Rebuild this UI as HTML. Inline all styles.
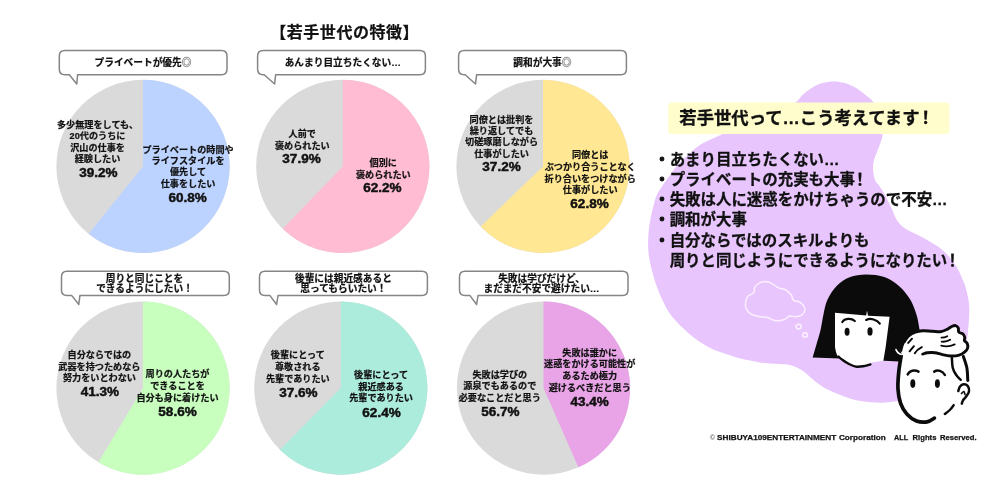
<!DOCTYPE html>
<html lang="ja"><head><meta charset="utf-8"><title>若手世代の特徴</title>
<style>
html,body{margin:0;padding:0;background:#fff;}
body{width:1008px;height:481px;overflow:hidden;position:relative;font-family:"Liberation Sans", "Noto Sans CJK JP", sans-serif;}
svg{display:block;position:absolute;left:0;top:0;}
text{font-family:"Liberation Sans", "Noto Sans CJK JP", sans-serif;font-weight:700;fill:#111;}
.lb{text-anchor:middle;stroke:#111;stroke-width:0.22px;}
.pc{text-anchor:middle;font-family:"Liberation Sans",sans-serif;font-size:12.3px;font-weight:700;stroke:#111;stroke-width:0.45px;}
.bl{font-size:15.45px;stroke:#111;stroke-width:0.3px;}
</style></head><body>
<svg width="1008" height="481" viewBox="0 0 1008 481">

<text x="344.7" y="37.8" class="lb" font-size="16" style="letter-spacing:0.55px">【若手世代の特徴】</text>
<circle cx="143" cy="166.4" r="86.6" fill="#dadada"/><path d="M143,166.4 L143,79.80000000000001 A86.6,86.6 0 1 1 88.64,233.81 Z" fill="#bcd3ff"/>
<text x="97.5" y="128.06" class="lb" font-size="9.15">多少無理をしても、</text><text x="97.5" y="139.46" class="lb" font-size="9.15">20代のうちに</text><text x="97.5" y="150.86" class="lb" font-size="9.15">沢山の仕事を</text><text x="97.5" y="162.36" class="lb" font-size="9.15">経験したい</text>
<text transform="translate(98.3,176.75) scale(1.1,1)" class="pc">39.2%</text>
<text x="188" y="153.16" class="lb" font-size="9.15">プライベートの時間や</text><text x="188" y="163.96" class="lb" font-size="9.15">ライフスタイルを</text><text x="188" y="174.86" class="lb" font-size="9.15">優先して</text><text x="188" y="186.76" class="lb" font-size="9.15">仕事をしたい</text>
<text transform="translate(187.7,202.45) scale(1.1,1)" class="pc">60.8%</text>
<circle cx="342.8" cy="166.4" r="86.6" fill="#dadada"/><path d="M342.8,166.4 L342.8,79.80000000000001 A86.6,86.6 0 1 1 282.73,228.78 Z" fill="#ffbcd3"/>
<text x="302.3" y="136.66" class="lb" font-size="9.15">人前で</text><text x="302.3" y="148.56" class="lb" font-size="9.15">褒められたい</text>
<text transform="translate(301.5,162.65) scale(1.1,1)" class="pc">37.9%</text>
<text x="383.3" y="166.16" class="lb" font-size="9.15">個別に</text><text x="383.3" y="177.86" class="lb" font-size="9.15">褒められたい</text>
<text transform="translate(382.4,192.35) scale(1.1,1)" class="pc">62.2%</text>
<circle cx="543" cy="166.4" r="86.6" fill="#dadada"/><path d="M543,166.4 L543,79.80000000000001 A86.6,86.6 0 1 1 480.62,226.47 Z" fill="#ffe793"/>
<text x="501.5" y="122.76" class="lb" font-size="9.15">同僚とは批判を</text><text x="501.5" y="134.16" class="lb" font-size="9.15">繰り返してでも</text><text x="501.5" y="145.16" class="lb" font-size="9.15">切磋琢磨しながら</text><text x="501.5" y="156.56" class="lb" font-size="9.15">仕事がしたい</text>
<text transform="translate(501.5,171.45) scale(1.1,1)" class="pc">37.2%</text>
<text x="590.2" y="157.76" class="lb" font-size="9.15">同僚とは</text><text x="590.2" y="170.36" class="lb" font-size="9.15">ぶつかり合うことなく</text><text x="590.2" y="181.76" class="lb" font-size="9.15">折り合いをつけながら</text><text x="590.2" y="193.16" class="lb" font-size="9.15">仕事がしたい</text>
<text transform="translate(589.5,207.95) scale(1.1,1)" class="pc">62.8%</text>
<circle cx="143" cy="388.1" r="86.6" fill="#dadada"/><path d="M143,388.1 L143,301.5 A86.6,86.6 0 1 1 98.45,462.36 Z" fill="#c8ffbf"/>
<text x="99.4" y="358.26" class="lb" font-size="9.15">自分ならではの</text><text x="99.4" y="369.76" class="lb" font-size="9.15">武器を持つためなら</text><text x="99.4" y="381.16" class="lb" font-size="9.15">努力をいとわない</text>
<text transform="translate(99.8,396.45) scale(1.1,1)" class="pc">41.3%</text>
<text x="177.5" y="377.06" class="lb" font-size="9.15">周りの人たちが</text><text x="177.5" y="389.16" class="lb" font-size="9.15">できることを</text><text x="177.5" y="401.06" class="lb" font-size="9.15">自分も身に着けたい</text>
<text transform="translate(177.5,416.45) scale(1.1,1)" class="pc">58.6%</text>
<circle cx="340.8" cy="388.1" r="86.6" fill="#dadada"/><path d="M340.8,388.1 L340.8,301.5 A86.6,86.6 0 1 1 279.95,449.72 Z" fill="#acecdc"/>
<text x="297.8" y="358.26" class="lb" font-size="9.15">後輩にとって</text><text x="297.8" y="369.76" class="lb" font-size="9.15">尊敬される</text><text x="297.8" y="381.66" class="lb" font-size="9.15">先輩でありたい</text>
<text transform="translate(298.4,396.95) scale(1.1,1)" class="pc">37.6%</text>
<text x="381.1" y="377.76" class="lb" font-size="9.15">後輩にとって</text><text x="381.1" y="389.66" class="lb" font-size="9.15">親近感ある</text><text x="381.1" y="401.26" class="lb" font-size="9.15">先輩でありたい</text>
<text transform="translate(381.5,416.95) scale(1.1,1)" class="pc">62.4%</text>
<circle cx="543.5" cy="388.1" r="86.6" fill="#dadada"/><path d="M543.5,388.1 L543.5,301.5 A86.6,86.6 0 0 1 578.39,467.36 Z" fill="#e8a4e6"/>
<text x="499.8" y="377.76" class="lb" font-size="9.15">失敗は学びの</text><text x="499.8" y="389.16" class="lb" font-size="9.15">源泉でもあるので</text><text x="499.8" y="400.56" class="lb" font-size="9.15">必要なことだと思う</text>
<text transform="translate(500.3,415.95) scale(1.1,1)" class="pc">56.7%</text>
<text x="589.7" y="355.56" class="lb" font-size="9.15">失敗は誰かに</text><text x="589.7" y="367.46" class="lb" font-size="9.15">迷惑をかける可能性が</text><text x="589.7" y="378.86" class="lb" font-size="9.15">あるため極力</text><text x="589.7" y="390.96" class="lb" font-size="9.15">避けるべきだと思う</text>
<text transform="translate(589.7,406.25) scale(1.1,1)" class="pc">43.4%</text>
<path d="M64.8,50.6 H221.5 Q227,50.6 227,56.1 V69.3 Q227,74.8 221.5,74.8 H77.6 L76.8,84 L69.3,74.8 H64.8 Q59.3,74.8 59.3,69.3 V56.1 Q59.3,50.6 64.8,50.6 Z" fill="#fff" stroke="#858585" stroke-width="1.5" stroke-linejoin="round"/>
<text x="143" y="66.15" class="lb" font-size="9.7">プライベートが優先<tspan style="fill:#9b9b9b;stroke:#9b9b9b;stroke-width:0.45px">◎</tspan></text>
<path d="M263.1,50.6 H419.9 Q425.4,50.6 425.4,56.1 V69.3 Q425.4,74.8 419.9,74.8 H275.6 L274.6,84 L264.2,74.8 H263.1 Q257.6,74.8 257.6,69.3 V56.1 Q257.6,50.6 263.1,50.6 Z" fill="#fff" stroke="#858585" stroke-width="1.5" stroke-linejoin="round"/>
<text x="342.8" y="66.15" class="lb" font-size="9.7">あんまり目立ちたくない…</text>
<path d="M464.1,50.6 H620.9 Q626.4,50.6 626.4,56.1 V69.3 Q626.4,74.8 620.9,74.8 H476.6 L475.5,84 L465.2,74.8 H464.1 Q458.6,74.8 458.6,69.3 V56.1 Q458.6,50.6 464.1,50.6 Z" fill="#fff" stroke="#858585" stroke-width="1.5" stroke-linejoin="round"/>
<text x="542.4" y="66.15" class="lb" font-size="9.7">調和が大事<tspan style="fill:#9b9b9b;stroke:#9b9b9b;stroke-width:0.45px">◎</tspan></text>
<path d="M67.0,271.3 H223.8 Q229.3,271.3 229.3,276.8 V290.1 Q229.3,295.6 223.8,295.6 H79.9 L78.8,304.5 L71.8,295.6 H67.0 Q61.5,295.6 61.5,290.1 V276.8 Q61.5,271.3 67.0,271.3 Z" fill="#fff" stroke="#858585" stroke-width="1.5" stroke-linejoin="round"/>
<text x="144.5" y="281.65" class="lb" font-size="9.7">周りと同じことを</text>
<text x="144.5" y="291.95" class="lb" font-size="9.7">できるようにしたい！</text>
<path d="M265.0,271.3 H421.9 Q427.4,271.3 427.4,276.8 V290.1 Q427.4,295.6 421.9,295.6 H278 L276.6,304.5 L270,295.6 H265.0 Q259.5,295.6 259.5,290.1 V276.8 Q259.5,271.3 265.0,271.3 Z" fill="#fff" stroke="#858585" stroke-width="1.5" stroke-linejoin="round"/>
<text x="343.4" y="281.65" class="lb" font-size="9.7">後輩には親近感あると</text>
<text x="343.4" y="291.65" class="lb" font-size="9.7">思ってもらいたい！</text>
<path d="M465.0,271.3 H622.5 Q628,271.3 628,276.8 V290.1 Q628,295.6 622.5,295.6 H478 L476.6,304.5 L470,295.6 H465.0 Q459.5,295.6 459.5,290.1 V276.8 Q459.5,271.3 465.0,271.3 Z" fill="#fff" stroke="#858585" stroke-width="1.5" stroke-linejoin="round"/>
<text x="541.5" y="281.65" class="lb" font-size="9.7">失敗は学びだけど、</text><text x="541.5" y="291.65" class="lb" font-size="9.7">まだまだ不安で避けたい…</text>
<path d="M833.6,81.5 C837.4,81.5 841.1,82.0 844.9,83.1 C848.6,84.2 852.6,86.0 856.1,88.1 C859.6,90.2 863.2,93.2 866.1,95.6 C869.0,97.9 871.3,99.3 873.5,102.2 C875.7,105.1 878.0,109.2 879.5,113 C881.0,116.8 881.8,121.3 882.3,125 C882.8,128.7 882.8,132.1 882.5,135 C882.2,137.9 881.6,139.6 880.6,142.5 C879.6,145.4 877.9,149.4 876.8,152.5 C875.6,155.6 874.3,158.3 873.7,161.2 C873.1,164.1 872.9,166.9 873.1,170 C873.3,173.1 874.0,177.3 875,180 C876.0,182.7 877.7,183.5 879.4,186 C881.1,188.5 883.0,191.4 885,195 C887.0,198.6 889.2,203.3 891.2,207.5 C893.2,211.7 894.7,216.7 896.8,220 C898.9,223.3 900.9,225.2 903.7,227.4 C906.5,229.6 910.2,231.2 913.7,233.1 C917.2,235.0 920.9,236.4 924.9,238.7 C928.9,240.9 934.0,243.7 938,246.6 C942.0,249.5 945.7,252.9 948.7,256.2 C951.7,259.5 954.0,262.7 956.2,266.2 C958.4,269.7 960.2,273.9 961.8,277.4 C963.4,280.9 964.5,283.6 965.6,287.4 C966.7,291.2 967.9,296.2 968.5,300 C969.1,303.8 969.2,306.7 969.3,310 C969.4,313.3 969.1,316.7 968.9,320 C968.7,323.3 968.5,326.7 968.1,330 C967.8,333.3 967.8,336.2 966.8,340 C965.8,343.8 964.3,348.2 962,353 C959.7,357.8 956.7,363.8 953,369 C949.3,374.2 945.2,379.5 940,384 C934.8,388.5 927.8,393.3 922,396 C916.2,398.7 909.5,399.4 905,400.3 C900.5,401.2 898.6,401.0 894.9,401.4 C891.1,401.8 886.6,402.6 882.5,402.7 C878.4,402.8 874.2,402.5 870,402.2 C865.8,401.9 861.7,401.5 857.5,400.6 C853.3,399.7 850.0,398.7 845,396.8 C840.0,394.9 831.9,391.6 827.3,389.3 C822.7,387.0 820.2,385.1 817.3,383 C814.4,380.9 812.3,378.9 809.8,376.8 C807.3,374.7 805.1,372.4 802.4,370.6 C799.7,368.8 796.5,367.2 793.6,366.2 C790.7,365.1 788.4,364.7 784.9,364.3 C781.4,363.9 776.5,364.0 772.4,363.7 C768.2,363.4 764.1,363.1 760,362.5 C755.9,361.9 751.7,360.9 747.5,360 C743.3,359.1 740.0,358.4 735,356.9 C730.0,355.4 722.3,353.1 717.3,351.1 C712.3,349.1 708.8,347.2 704.9,344.9 C701.0,342.6 697.2,340.1 693.7,337.4 C690.2,334.7 686.8,331.6 683.7,328.7 C680.6,325.8 677.7,323.1 675,320 C672.3,316.9 669.9,314.0 667.5,310 C665.1,306.0 662.5,300.2 660.6,296 C658.7,291.8 657.5,288.5 656.2,285 C655.0,281.5 654.0,278.3 653.1,275 C652.2,271.7 651.3,268.3 650.6,265 C649.9,261.7 649.1,258.3 648.7,255 C648.3,251.7 648.2,248.3 648.1,245 C648.0,241.7 648.2,238.3 648.4,235 C648.6,231.7 648.9,228.3 649.4,225 C649.9,221.7 650.5,218.3 651.2,215 C651.9,211.7 652.8,208.3 653.7,205 C654.6,201.7 655.2,198.3 656.8,195 C658.3,191.7 660.8,188.3 663,185 C665.2,181.7 667.6,178.3 670,175 C672.4,171.7 674.5,168.3 677.5,165 C680.5,161.7 684.3,158.3 688,155 C691.7,151.7 695.4,147.9 699.9,145 C704.4,142.1 709.0,140.2 714.9,137.5 C720.8,134.8 728.0,131.5 735,128.5 C742.0,125.5 749.8,122.5 757,119.5 C764.2,116.5 771.6,113.4 778,110.5 C784.4,107.6 791.5,104.8 795.6,102.2 C799.7,99.6 799.7,97.4 802.5,94.9 C805.3,92.5 809.1,89.5 812.4,87.5 C815.7,85.5 818.9,84.1 822.4,83.1 C825.9,82.1 829.9,81.5 833.6,81.5 Z" fill="#e8c5fd"/>
<rect x="668.2" y="102.4" width="281.3" height="31.6" rx="3.5" fill="#fffdcb"/>
<text x="679.3" y="123.6" font-size="17.35" style="stroke:#111;stroke-width:0.3px">若手世代って…こう考えてます<tspan dx="-2.6">！</tspan></text>
<text x="654.2" y="165.0" class="bl"><tspan style="stroke-width:1px">・</tspan>あまり目立ちたくない…</text>
<text x="654.2" y="185.2" class="bl"><tspan style="stroke-width:1px">・</tspan>プライベートの充実も大事<tspan dx="-2.6">！</tspan></text>
<text x="654.2" y="205.3" class="bl"><tspan style="stroke-width:1px">・</tspan>失敗は人に迷惑をかけちゃうので不安…</text>
<text x="654.2" y="225.4" class="bl"><tspan style="stroke-width:1px">・</tspan>調和が大事</text>
<text x="654.2" y="245.6" class="bl"><tspan style="stroke-width:1px">・</tspan>自分ならではのスキルよりも</text>
<text x="654.2" y="265.8" class="bl">　周りと同じようにできるようになりたい<tspan dx="-2.4">！</tspan></text>
<g fill="none" stroke="#fcf0ff" stroke-width="1.5"><path d="M745.6,302.4 C745.9,300.2 746.5,297.9 747.9,296.3 C749.3,294.7 752.9,294.0 754,292.5 C755.1,291.0 753.7,288.8 754.7,287.2 C755.7,285.6 757.7,283.5 760,282.6 C762.3,281.7 765.9,281.4 768.4,281.9 C770.9,282.4 773.6,284.7 775.2,285.7 C776.9,286.7 776.6,287.3 778.3,287.9 C779.9,288.5 783.0,288.4 785.1,289.5 C787.2,290.6 789.8,293.0 791.2,294.8 C792.6,296.6 791.9,298.8 793.4,300.1 C794.9,301.4 798.4,301.0 800.3,302.4 C802.2,303.8 804.4,306.4 804.8,308.4 C805.2,310.4 804.0,313.1 802.5,314.5 C801.0,315.9 797.9,316.6 795.7,316.8 C793.6,317.1 791.6,315.5 789.6,316 C787.6,316.5 786.1,319.0 783.6,319.8 C781.1,320.6 777.2,321.0 774.5,320.6 C771.8,320.2 769.9,318.1 767.6,317.5 C765.3,316.9 763.4,317.3 760.8,316.8 C758.1,316.3 754.1,315.8 751.7,314.5 C749.3,313.2 747.4,311.2 746.4,309.2 C745.4,307.2 745.4,304.5 745.6,302.4 Z"/><ellipse cx="798.7" cy="326.6" rx="2.6" ry="2.4"/><ellipse cx="805.1" cy="335" rx="2.4" ry="2.2"/></g>
<path d="M924,361.5 C923.6,358.8 922.3,350.6 921.5,345 C920.7,339.4 920.2,333.4 919.3,328.2 C918.4,323.0 917.8,318.5 916.2,313.7 C914.6,308.9 912.7,303.6 909.9,299.1 C907.1,294.6 903.6,290.2 899.5,286.6 C895.4,283.0 890.5,279.3 885,277.3 C879.5,275.3 872.1,274.6 866.2,274.6 C860.3,274.6 854.5,275.5 849.6,277.3 C844.8,279.1 840.7,282.0 837.1,285.6 C833.5,289.2 830.0,294.4 827.8,299.1 C825.5,303.8 824.8,308.5 823.6,313.7 C822.4,318.9 821.7,325.1 820.5,330.3 C819.3,335.5 817.6,340.3 816.3,344.9 C815.0,349.4 813.2,355.5 812.6,357.6  L840,358.6 L899,361.5 Z" fill="#0b0b0b"/>
<path d="M835,312.8 L866.2,315.5 L867,310.4 L868,315.7 L889.6,316.8 L885.7,346.8 L883.4,360.8 L883.4,360.8 C881.5,361.1 874.9,361.9 872,362.6 C869.1,363.3 868.0,364.3 866,365 C864.0,365.7 862.7,367.0 860,366.9 C857.3,366.8 853.1,366.2 849.6,364.6 C846.1,363.1 841.4,359.5 839.2,357.6 C837.0,355.8 837.2,355.3 836.5,353.5 C835.8,351.7 835.2,348.1 835,347  Z" fill="#fff"/>
<path d="M838.5,356.5 C839.1,357.1 840.5,358.6 842.3,359.8 C844.0,361.1 846.8,362.9 849,364 C851.2,365.1 853.5,366.2 855.8,366.6 C858.1,367.0 860.6,366.7 863,366.3 C865.4,365.9 869.2,364.7 870.4,364.4 " stroke="#0b0b0b" stroke-width="2.4" fill="none" stroke-linecap="round"/>
<path d="M842.3,322 C844.5,318.6 851,317.6 854.8,321 M866.2,319.9 C870.5,317.8 877,319.5 879.8,323.7" stroke="#0b0b0b" stroke-width="2.2" fill="none" stroke-linecap="round"/>
<ellipse cx="847.1" cy="331.8" rx="2.5" ry="4" fill="#0b0b0b"/><ellipse cx="870" cy="331.4" rx="2.6" ry="4.2" fill="#0b0b0b"/>
<g stroke="#0b0b0b" stroke-linecap="round" stroke-linejoin="round">
<path d="M901.5,353.8 C901.0,356.8 899.4,365.6 898.8,371.5 C898.2,377.4 897.7,383.9 898,389.2 C898.3,394.5 899.1,399.2 900.6,403.3 C902.1,407.4 904.1,411.1 906.8,414 C909.4,416.9 913.1,419.7 916.5,421 C919.9,422.3 924.1,422.3 927.1,421.9 C930.1,421.5 931.2,419.7 934.2,418.4 C937.2,417.1 941.5,416.2 944.8,414 C948.0,411.8 950.9,406.9 953.7,405.1 C956.5,403.3 959.1,405.4 961.6,403.3 C964.1,401.2 967.7,396.5 968.7,392.7 C969.7,388.9 968.1,384.5 967.8,380.4 C967.5,376.3 967.6,371.8 966.9,368 C966.2,364.2 966.2,360.4 963.4,357.4 C960.6,354.4 957.2,351.9 950,350 C942.8,348.1 925.0,346.7 920,346  Z" fill="#fff" stroke="none"/>
<path d="M901.5,353.8 C901.0,356.8 899.4,365.6 898.8,371.5 C898.2,377.4 897.7,383.9 898,389.2 C898.3,394.5 899.1,399.2 900.6,403.3 C902.1,407.4 904.1,411.1 906.8,414 C909.4,416.9 913.1,419.7 916.5,421 C919.9,422.3 924.1,422.4 927.1,421.9 C930.1,421.4 933.2,418.8 934.4,418.2 " fill="none" stroke-width="3.7"/>
<path d="M944.8,414 C945.6,413.3 948.3,411.5 949.8,410 C951.3,408.5 953.1,405.9 953.7,405.1 " fill="none" stroke-width="2.4"/>
<path d="M963.4,356.5 C964.0,358.4 966.2,364.0 966.9,368 C967.6,372.0 967.6,378.3 967.8,380.4 " fill="none" stroke-width="3"/>
<path d="M951.9,358 C952.0,359.7 952.1,365.1 952.8,368 C953.5,370.9 955.0,373.1 956.3,375.1 C957.6,377.1 960.0,379.0 960.7,379.8 " fill="none" stroke-width="2.5"/>
<path d="M958.3,391 C958.6,390.2 959.1,387.6 960,386.5 C960.9,385.4 962.2,384.3 963.5,384.2 C964.8,384.1 966.9,384.8 967.8,386 C968.7,387.2 969.3,389.7 969,391.5 C968.7,393.3 966.8,395.6 965.8,397 C964.8,398.4 963.9,398.9 963.2,400 C962.5,401.1 962.0,403.0 961.8,403.6 " fill="#fff" stroke-width="2.5"/>
<path d="M961.5,393.5 C961.9,393.2 963.2,391.3 963.8,391.5 C964.4,391.7 964.8,394.0 965,394.5 " fill="none" stroke-width="1.6"/>
<path d="M904.5,341.5 C905.2,340.6 906.9,337.4 908.7,335.9 C910.5,334.3 913.0,333.0 915.3,332.2 C917.6,331.4 919.9,331.0 922.7,330.8 C925.5,330.6 929.1,331.1 932.1,331.2 C935.1,331.3 938.0,332.0 940.5,331.7 C943.0,331.4 945.2,330.3 947.1,329.4 C949.0,328.5 950.3,327.1 951.7,326.5 C953.1,325.9 954.4,325.4 955.5,325.6 C956.6,325.9 957.8,326.9 958.3,328 C958.8,329.1 958.0,331.2 958.8,332.2 C959.6,333.2 962.0,333.1 963,334 C964.0,334.9 964.6,336.7 964.8,337.8 C965.0,338.9 964.0,339.7 964.4,340.6 C964.8,341.5 966.7,342.1 967.2,343.4 C967.7,344.6 968.0,346.7 967.6,348.1 C967.2,349.5 966.2,350.6 964.8,351.8 C963.4,353.0 961.5,354.4 959.2,355.1 C956.9,355.8 953.6,356.1 950.8,356 C948.0,355.9 945.0,355.2 942.4,354.6 C939.8,354.1 937.4,353.0 934.9,352.7 C932.4,352.4 929.4,352.5 927.4,352.7 C925.4,352.9 924.9,353.4 922.7,354.1 C920.5,354.8 917.1,356.7 914,357 C910.9,357.3 906.2,357.0 904,356 C901.8,355.0 901.1,351.8 900.5,351  Z" fill="#fff" stroke="none"/>
<path d="M904.5,341.5 C905.2,340.6 906.9,337.4 908.7,335.9 C910.5,334.3 913.0,333.0 915.3,332.2 C917.6,331.4 919.9,331.0 922.7,330.8 C925.5,330.6 929.1,331.1 932.1,331.2 C935.1,331.3 938.0,332.0 940.5,331.7 C943.0,331.4 945.2,330.3 947.1,329.4 C949.0,328.5 950.3,327.1 951.7,326.5 C953.1,325.9 954.4,325.4 955.5,325.6 C956.6,325.9 957.8,326.9 958.3,328 C958.8,329.1 958.0,331.2 958.8,332.2 C959.6,333.2 962.0,333.1 963,334 C964.0,334.9 964.6,336.7 964.8,337.8 C965.0,338.9 964.0,339.7 964.4,340.6 C964.8,341.5 966.7,342.1 967.2,343.4 C967.7,344.6 968.0,346.7 967.6,348.1 C967.2,349.5 966.2,350.6 964.8,351.8 C963.4,353.0 961.5,354.4 959.2,355.1 C956.9,355.8 953.6,356.1 950.8,356 C948.0,355.9 945.0,355.2 942.4,354.6 C939.8,354.1 937.4,353.0 934.9,352.7 C932.4,352.4 929.4,352.5 927.4,352.7 C925.4,352.9 923.5,353.9 922.7,354.1 " fill="none" stroke-width="2.9"/>
<path d="M904.5,341.5 C904.2,342.2 903.0,344.4 902.5,346 C902.0,347.6 901.4,350.1 901.2,350.9 " fill="none" stroke-width="2"/>
<path d="M896,349.6 C897.2,352.6 899.3,354.2 902,354.5" fill="none" stroke="#fff" stroke-width="1.6"/>
<path d="M908.2,342.9 L912,338.7 M909.6,351.3 L913.9,346.2 M914.8,353.2 C916.5,350.5 919,348.5 921.8,347.1" fill="none" stroke-width="2"/>
<path d="M941.4,337.6 C943.5,337.6 945.5,337.2 947.3,336.2 M941.6,341.6 C944.5,342 947.5,341.4 950.2,339.8 M941.2,345.6 C945.5,346.8 950.5,346.4 954.7,344.4" fill="none" stroke-width="1.8"/>
<path d="M907.7,374.4 C909.5,370.8 914.5,369.3 918.5,371.6 M934.2,371.6 C937.5,369.5 942.5,370.6 944.9,375" fill="none" stroke-width="2.5"/>
<ellipse cx="912.8" cy="383.6" rx="2.5" ry="4.3" fill="#0b0b0b" stroke="none"/><ellipse cx="937.4" cy="383.6" rx="2.5" ry="4.3" fill="#0b0b0b" stroke="none"/>
</g>
<g font-size="7.9" style="font-family:'Liberation Sans',sans-serif">
<text x="709.8" y="439.8" fill="#777" font-size="7.4" style="fill:#6a6a6a">©</text>
<text x="717.1" y="439.6" textLength="119.1" lengthAdjust="spacingAndGlyphs" style="stroke:#111;stroke-width:0.25px">SHIBUYA109ENTERTAINMENT</text>
<text x="838.9" y="439.6" textLength="46.9" lengthAdjust="spacingAndGlyphs" style="stroke:#111;stroke-width:0.25px">Corporation</text>
<text x="894" y="439.6" textLength="14.1" lengthAdjust="spacingAndGlyphs" style="stroke:#111;stroke-width:0.25px">ALL</text>
<text x="912.6" y="439.6" textLength="23.8" lengthAdjust="spacingAndGlyphs" style="stroke:#111;stroke-width:0.25px">Rights</text>
<text x="940.1" y="439.6" textLength="36.5" lengthAdjust="spacingAndGlyphs" style="stroke:#111;stroke-width:0.25px">Reserved.</text>
</g>
</svg>
</body></html>
